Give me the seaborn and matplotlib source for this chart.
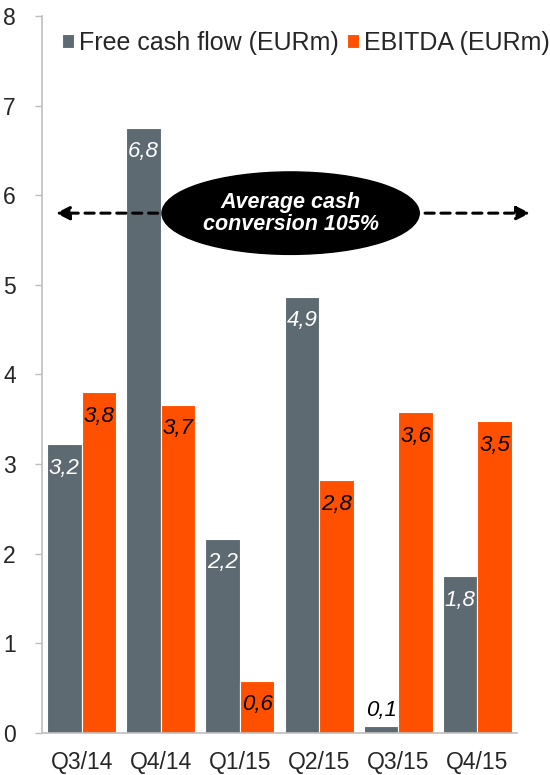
import numpy as np
import pandas as pd
import matplotlib
matplotlib.use("Agg")
import matplotlib.pyplot as plt
from matplotlib.patches import Ellipse
import seaborn as sns

# données
quarters = ["Q3/14", "Q4/14", "Q1/15", "Q2/15", "Q3/15", "Q4/15"]
free_cash_flow = [3.22, 6.75, 2.17, 4.87, 0.08, 1.75]
ebitda = [3.80, 3.66, 0.58, 2.82, 3.58, 3.48]
fcf_labels = ["3,2", "6,8", "2,2", "4,9", "0,1", "1,8"]
ebitda_labels = ["3,8", "3,7", "0,6", "2,8", "3,6", "3,5"]
series_names = ["Free cash flow (EURm)", "EBITDA (EURm)"]
y_ticks = [0, 1, 2, 3, 4, 5, 6, 7, 8]
avg_text = "Average cash\nconversion 105%"
avg_level = 5.8

gray = "#5e6a72"
orange = "#ff5000"

df = pd.DataFrame({
    "quarter": quarters * 2,
    "value": free_cash_flow + ebitda,
    "serie": [series_names[0]] * len(quarters) + [series_names[1]] * len(quarters),
})

sns.set_style("white")
plt.rcParams["font.family"] = ["Liberation Sans", "DejaVu Sans"]

fig = plt.figure(figsize=(5.5, 7.75), dpi=100)
ax = fig.add_axes([0.0764, 0.0542, 0.8636, 0.9252])

sns.barplot(data=df, x="quarter", y="value", hue="serie", order=quarters,
            hue_order=series_names, palette=[gray, orange], saturation=1,
            width=0.87, edgecolor="white", linewidth=0.8, ax=ax)

# étiquettes des barres
for i, (v, lab) in enumerate(zip(free_cash_flow, fcf_labels)):
    x = i - 0.2175
    if v < 0.5:
        ax.text(x, v + 0.05, lab, ha="center", va="bottom", color="black",
                style="italic", fontsize=16)
    else:
        ax.text(x, v - 0.15, lab, ha="center", va="top", color="white",
                style="italic", fontsize=16)
for i, (v, lab) in enumerate(zip(ebitda, ebitda_labels)):
    ax.text(i + 0.2175, v - 0.15, lab, ha="center", va="top", color="black",
            style="italic", fontsize=16)

# flèche pointillée + ellipse
arrow_kw = dict(arrowstyle="-|>", linestyle=(0, (3, 2.2)), lw=2.2,
                color="black", mutation_scale=20)
ax.annotate("", xy=(-0.36, avg_level), xytext=(2.0, avg_level),
            arrowprops=arrow_kw, annotation_clip=False)
ax.annotate("", xy=(5.7, avg_level), xytext=(3.3, avg_level),
            arrowprops=arrow_kw, annotation_clip=False)
ell = Ellipse((2.64, avg_level), width=3.25, height=0.92, facecolor="black",
              edgecolor="black", zorder=5, clip_on=False)
ax.add_patch(ell)
ax.text(2.64, avg_level, avg_text, ha="center", va="center", color="white",
        fontsize=15.5, fontweight="bold", style="italic", zorder=6, linespacing=1.05)

ax.set_xlim(-0.5, 5.5)
ax.set_ylim(0, 8)
ax.set_yticks(y_ticks)
ax.set_xlabel("")
ax.set_ylabel("")
ax.set_xticks(np.arange(-0.5, 6, 1), minor=True)
ax.tick_params(axis="x", which="major", length=0, labelsize=16.5, pad=13)
ax.tick_params(axis="x", which="minor", length=6, color="#bfbfbf", width=1, direction="out")
ax.tick_params(axis="y", length=5, color="#bfbfbf", width=1, labelsize=16.5, pad=14,
               direction="out", left=True)
for s in ["top", "right"]:
    ax.spines[s].set_visible(False)
for s in ["left", "bottom"]:
    ax.spines[s].set_color("#bfbfbf")
    ax.spines[s].set_linewidth(1.2)

leg = ax.legend(loc="center right", bbox_to_anchor=(1.068, 0.962), ncol=2, frameon=False,
                fontsize=18, handlelength=0.48, handleheight=0.48, handletextpad=0.2,
                columnspacing=0.3, borderaxespad=0, borderpad=0)
for h in leg.legend_handles:
    h.set_edgecolor("white")

fig.savefig("out.png", dpi=100)
